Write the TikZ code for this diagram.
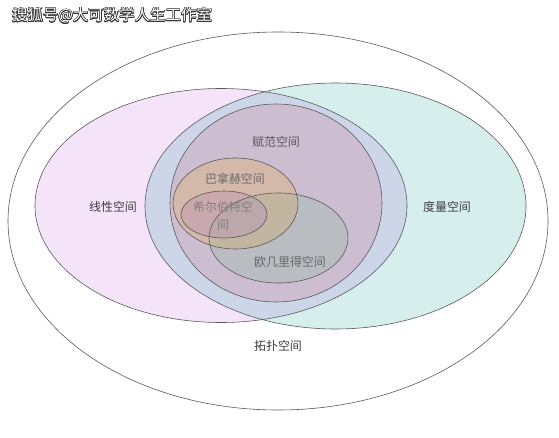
\documentclass[tikz,border=0pt]{standalone}
\usepackage{fontspec}
\setmainfont{Noto Sans CJK SC}
\usepackage[copies]{contour}
\contourlength{0.6pt}
\usepackage{xcolor}
\definecolor{rimgray}{HTML}{5A5A5A}
\definecolor{linpink}{HTML}{F4E3F9}
\definecolor{metgreen}{HTML}{D6EFEC}
\definecolor{bothblue}{HTML}{CDD6E9}
\definecolor{normmauve}{HTML}{CDBDD0}
\definecolor{banachtan}{HTML}{D4B9AA}
\definecolor{hilbrose}{HTML}{C9A8AE}
\definecolor{euclgray}{HTML}{B9BDC2}
\definecolor{banacheucl}{HTML}{C3B6A0}
\definecolor{hilbeucl}{HTML}{BCA8AA}
\definecolor{labeldark}{HTML}{3C3C3C}
\usetikzlibrary{positioning}

\tikzset{
  rim/.style={draw=rimgray, line width=0.6bp},
  lbl/.style={font=\fontsize{12}{18}\selectfont, text=labeldark, inner sep=0pt},
  linpath/.style={insert path={(221,205.5) ellipse [x radius=186, y radius=117]}},
  metpath/.style={insert path={(335.5,206) ellipse [x radius=190.5, y radius=123]}},
  normpath/.style={insert path={(276,203) ellipse [x radius=106, y radius=99]}},
  banachpath/.style={insert path={(235.5,203.5) ellipse [x radius=62.5, y radius=45.5]}},
  hilbpath/.style={insert path={(224,214.5) ellipse [x radius=43, y radius=23.5]}},
  euclpath/.style={insert path={(278.5,238) ellipse [x radius=69.5, y radius=45]}},
}

\begin{document}
\begin{tikzpicture}[x=1bp,y=-1bp]
\useasboundingbox (0,0) rectangle (559,438);
%\draw[step=10,gray,very thin] (0,0) grid (559,438); %background grid
% topological space
\draw[rim, fill=white] (278,221) ellipse [x radius=270, y radius=189];
% linear and metric spaces
\fill[linpink, linpath];
\fill[metgreen, metpath];
\begin{scope}
\clip[linpath];
\fill[bothblue, metpath];
\end{scope}
\draw[rim, linpath];
\draw[rim, metpath];
% normed space and the ones inside
\fill[normmauve, normpath];
\fill[banachtan, banachpath];
\fill[hilbrose, hilbpath];
\fill[euclgray, euclpath];
\begin{scope}
\clip[banachpath];
\fill[banacheucl, euclpath];
\end{scope}
\begin{scope}
\clip[hilbpath];
\fill[hilbeucl, euclpath];
\end{scope}
\draw[rim, normpath];
\draw[rim, banachpath];
\draw[rim, hilbpath];
\draw[rim, euclpath];
% labels
\node[lbl] (lin) at (113,207) {线性空间};
\node[lbl] (met) at (447,207) {度量空间};
\node[lbl] (topo) at (278,346) {拓扑空间};
\node[lbl, text=black!65] (norm) at (276,142) {赋范空间};
\node[lbl, text=black!58] (banach) at (235,179) {巴拿赫空间};
\node[lbl, text=black!50, align=center] (hilb) at (223,216) {希尔伯特空\\间};
\node[lbl, text=black!60] (eucl) at (290,262) {欧几里得空间};
\node[font=\fontsize{15.5}{18}\selectfont, inner sep=0pt] (mark) at (112,16)
  {\contour{black!80}{\textcolor{white}{搜狐号@大可数学人生工作室}}};
\end{tikzpicture}
\end{document}
